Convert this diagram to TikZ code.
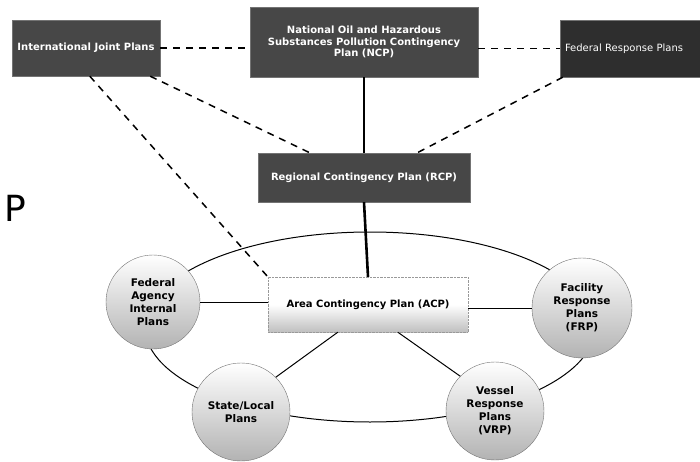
\documentclass[tikz,border=0pt]{standalone}
\usepackage{fontspec}
\setmainfont{DejaVu Sans}
\usetikzlibrary{calc}
\begin{document}
\begin{tikzpicture}[x=1pt,y=-1pt,
  darkbox/.style={draw=black!55, fill=black!72, text=white, font=\bfseries\fontsize{10}{11.5}\selectfont, align=center, inner sep=2pt},
  lightbox/.style={draw=black!40, densely dotted, top color=white, bottom color=black!25, middle color=white, font=\bfseries\fontsize{10}{12}\selectfont, align=center},
  plancircle/.style={circle, draw=black!55, top color=white, bottom color=black!30, font=\bfseries\fontsize{10.5}{13}\selectfont, align=center, inner sep=0pt},
  dashline/.style={draw=black, line width=1.5pt, dash pattern=on 7pt off 6pt},
  thickline/.style={draw=black, line width=2.6pt},
  thinline/.style={draw=black, line width=1pt}]
\useasboundingbox (0,0) rectangle (700,462);
\clip (0,0) rectangle (700,462);

% ring
\draw[thinline] (370,327) ellipse [x radius=225, y radius=95];

% boxes
\node[darkbox, minimum width=148pt, minimum height=56pt] (ijp) at (86,48) {International Joint Plans};
\node[darkbox, minimum width=228pt, minimum height=70pt] (ncp) at (364,42) {National Oil and Hazardous\\Substances Pollution Contingency\\Plan (NCP)};
\node[darkbox, fill=black!82, font=\fontsize{10}{11.5}\selectfont, minimum width=160pt, minimum height=57pt, text width=150pt, align=left] (frp) at (640,48.5) {Federal Response Plans};
\node[darkbox, minimum width=212pt, minimum height=49pt] (rcp) at (364,177.5) {Regional Contingency Plan (RCP)};
\node[lightbox, minimum width=200pt, minimum height=55pt] (acp) at (368,304.5) {Area Contingency Plan (ACP)};

% partial heading letter
\node[font=\fontsize{36}{40}\selectfont, anchor=base west, inner sep=0pt] (ptxt) at (4,222) {P};

% circles
\node[plancircle, minimum size=94pt] (fed) at (153,302) {Federal\\Agency\\Internal\\Plans};
\node[plancircle, minimum size=98pt] (state) at (241,412) {State/Local\\Plans};
\node[plancircle, minimum size=100pt] (fac) at (582,308) {Facility\\Response\\Plans\\(FRP)};
\node[plancircle, minimum size=98pt] (vessel) at (495,411) {Vessel\\Response\\Plans\\(VRP)};

% dashed connectors
\draw[dashline] (ijp.east) -- (ijp.east -| ncp.west);
\draw[dashline] (ncp.east |- frp.west) -- (frp.west);
\draw[dashline] ($(ijp.south west)+(78,0)$) -- (acp.north west);
\draw[dashline] ($(ijp.south east)+(-10,0)$) -- ($(rcp.north west)+(52,0)$);
\draw[dashline] ($(frp.south west)+(3,0)$) -- ($(rcp.north east)+(-53,0)$);

% solid connectors
\draw[thickline] (ncp.south) -- (rcp.north);
\draw[thickline] (rcp.south) -- (acp.north);
\draw[thinline] (fed.east) -- (fed.east -| acp.west);
\draw[thinline] (acp.east |- fac.west) -- (fac.west);
\draw[thinline] ($(acp.south west)+(70,0)$) -- (state.north east);
\draw[thinline] ($(acp.south west)+(130,0)$) -- (vessel.north west);
\end{tikzpicture}
\end{document}
